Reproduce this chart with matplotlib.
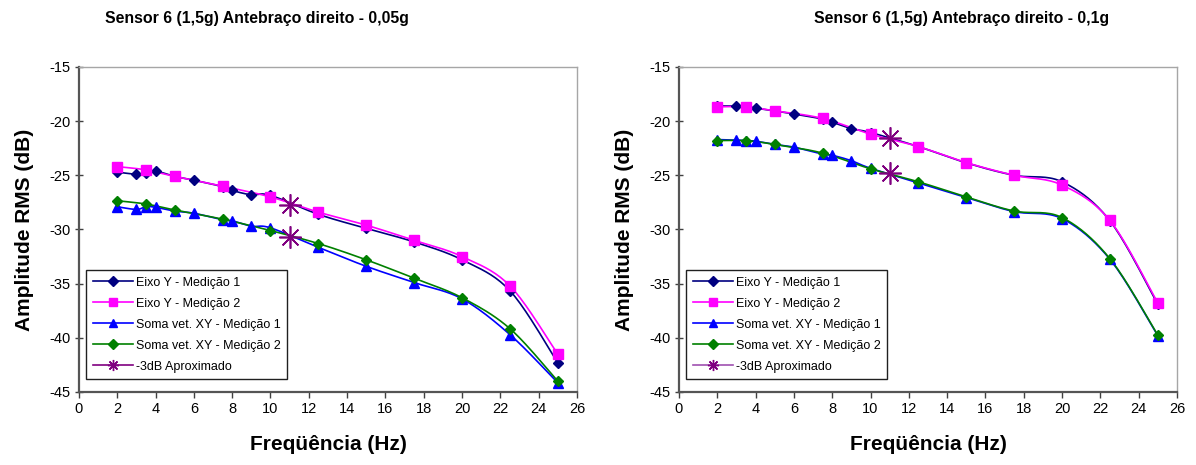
import numpy as np
import matplotlib
matplotlib.use("Agg")
import matplotlib.pyplot as plt
from matplotlib.lines import Line2D

plt.rcParams['font.family'] = ['Liberation Sans', 'DejaVu Sans']
plt.rcParams['axes.unicode_minus'] = False

# Frequencies (Hz) for each measurement run
freq_m1 = [2, 3, 3.5, 4, 5, 6, 7.5, 8, 9, 10, 12.5, 15, 17.5, 20, 22.5, 25]
freq_m2 = [2, 3.5, 5, 7.5, 10, 12.5, 15, 17.5, 20, 22.5, 25]

# Sensor 6, right forearm, 0.05 g excitation (dB)
a_eixo_m1 = [-24.7, -24.9, -24.75, -24.6, -25.1, -25.45, -26.05, -26.4, -26.8, -26.85,
             -28.6, -29.9, -31.15, -32.8, -35.65, -42.3]
a_eixo_m2 = [-24.2, -24.5, -25.1, -26.0, -27.0, -28.4, -29.6, -31.0, -32.5, -35.2, -41.5]
a_soma_m1 = [-27.9, -28.15, -27.9, -27.95, -28.3, -28.5, -29.1, -29.2, -29.7, -29.85,
             -31.65, -33.4, -34.9, -36.4, -39.7, -44.15]
a_soma_m2 = [-27.35, -27.65, -28.2, -29.05, -30.1, -31.3, -32.8, -34.5, -36.3, -39.15, -44.0]
a_3db_f = [11, 11]
a_3db = [-27.7, -30.7]

# Sensor 6, right forearm, 0.1 g excitation (dB)
b_eixo_m1 = [-18.6, -18.6, -18.65, -18.8, -19.05, -19.35, -19.8, -20.1, -20.7, -21.05,
             -22.35, -23.85, -25.0, -25.6, -29.2, -36.9]
b_eixo_m2 = [-18.68, -18.68, -19.05, -19.75, -21.2, -22.35, -23.83, -25.0, -25.9, -29.17, -36.8]
b_soma_m1 = [-21.7, -21.75, -21.8, -21.85, -22.15, -22.4, -23.05, -23.15, -23.65, -24.35,
             -25.7, -27.05, -28.35, -29.0, -32.75, -39.8]
b_soma_m2 = [-21.8, -21.8, -22.15, -22.95, -24.4, -25.6, -27.0, -28.3, -28.9, -32.7, -39.75]
b_3db_f = [11, 11]
b_3db = [-21.6, -24.8]

titles = ["Sensor 6 (1,5g) Antebraço direito - 0,05g",
          "Sensor 6 (1,5g) Antebraço direito - 0,1g"]
labels = ["Eixo Y - Medição 1", "Eixo Y - Medição 2",
          "Soma vet. XY - Medição 1", "Soma vet. XY - Medição 2",
          "-3dB Aproximado"]
x_ticks = list(range(0, 27, 2))
y_ticks = list(range(-45, -14, 5))

c_navy, c_mag, c_blue, c_green, c_purp = "#000080", "#FF00FF", "#0000FF", "#008000", "#800080"
asterisk = (8, 2, 0)


def smooth(x, y, n=20):
    """Catmull-Rom style smoothed line through the data points."""
    x = np.asarray(x, float)
    y = np.asarray(y, float)
    px = np.concatenate([[x[0]], x, [x[-1]]])
    py = np.concatenate([[y[0]], y, [y[-1]]])
    xs, ys = [x[0]], [y[0]]
    t = np.linspace(0, 1, n + 1)[1:]
    for i in range(1, len(px) - 2):
        p0 = np.array([px[i], py[i]])
        p3 = np.array([px[i + 1], py[i + 1]])
        c1 = p0 + (np.array([px[i + 1], py[i + 1]]) - np.array([px[i - 1], py[i - 1]])) / 6
        c2 = p3 - (np.array([px[i + 2], py[i + 2]]) - p0) / 6
        b = ((1 - t) ** 3)[:, None] * p0 + (3 * (1 - t) ** 2 * t)[:, None] * c1 \
            + (3 * (1 - t) * t ** 2)[:, None] * c2 + (t ** 3)[:, None] * p3
        xs.extend(b[:, 0])
        ys.extend(b[:, 1])
    return xs, ys


def draw(ax, eixo1, eixo2, soma1, soma2, f3, v3, star_leg_color):
    series = [
        (freq_m1, eixo1, c_navy, 'D', 5.5),
        (freq_m2, eixo2, c_mag, 's', 6.5),
        (freq_m1, soma1, c_blue, '^', 7),
        (freq_m2, soma2, c_green, 'D', 5.5),
    ]
    handles = []
    for f, v, c, m, ms in series:
        sx, sy = smooth(f, v)
        ax.plot(sx, sy, color=c, lw=1.2, zorder=2)
        ax.plot(f, v, ls='none', marker=m, ms=ms, color=c, mec=c, zorder=3)
        handles.append(Line2D([], [], color=c, lw=1.2, marker=m, ms=ms * 0.85, mec=c))
    ax.plot(f3, v3, ls='none', marker=asterisk, ms=16, mew=1.2, color=c_purp, zorder=4)
    handles.append(Line2D([], [], color=star_leg_color, lw=1.2, marker=asterisk,
                          ms=8, mew=1.0, mec=c_purp))

    ax.set_xlim(0, 26)
    ax.set_ylim(-45, -15)
    ax.set_xticks(x_ticks)
    ax.set_yticks(y_ticks)
    ax.tick_params(axis='both', labelsize=10.5, length=4, width=1, color='#404040', pad=3)
    ax.tick_params(axis='x', direction='out')
    ax.tick_params(axis='y', direction='inout', length=6)
    for s in ('left', 'bottom'):
        ax.spines[s].set_color('#555555')
        ax.spines[s].set_linewidth(1.6)
    for s in ('top', 'right'):
        ax.spines[s].set_color('#a6a6a6')
        ax.spines[s].set_linewidth(1.0)
    ax.set_xlabel("Freqüência (Hz)", fontsize=15, fontweight='bold', labelpad=14)
    ax.set_ylabel("Amplitude RMS (dB)", fontsize=15, fontweight='bold', labelpad=11)

    leg = ax.legend(handles, labels, loc='lower left', bbox_to_anchor=(0.015, 0.04),
                    fontsize=9, frameon=True, fancybox=False, framealpha=1,
                    edgecolor='#202020', handlelength=3.2, handletextpad=0.25,
                    labelspacing=0.72, borderpad=0.5, borderaxespad=0)
    leg.get_frame().set_linewidth(1.0)


fig = plt.figure(figsize=(11.96, 4.65), dpi=100)
ax1 = fig.add_axes([0.066, 0.157, 0.4164, 0.699])
ax2 = fig.add_axes([0.5677, 0.157, 0.4164, 0.699])

draw(ax1, a_eixo_m1, a_eixo_m2, a_soma_m1, a_soma_m2, a_3db_f, a_3db, c_purp)
draw(ax2, b_eixo_m1, b_eixo_m2, b_soma_m1, b_soma_m2, b_3db_f, b_3db, "#a050b0")

fig.text(257 / 1196, 1 - 18 / 465, titles[0], ha='center', va='center',
         fontsize=11.4, fontweight='bold')
fig.text(962 / 1196, 1 - 18 / 465, titles[1], ha='center', va='center',
         fontsize=11.4, fontweight='bold')

fig.savefig("out.png", dpi=100)
